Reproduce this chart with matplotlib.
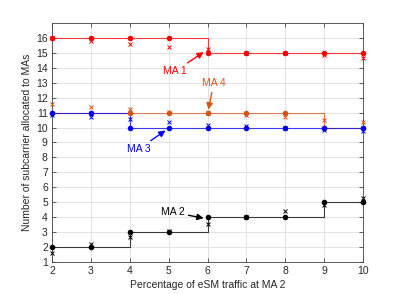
import matplotlib
matplotlib.use("Agg")
import matplotlib.pyplot as plt

plt.rcParams["font.family"] = ["Liberation Sans", "DejaVu Sans"]

x = [2, 3, 4, 5, 6, 7, 8, 9, 10]

ma1_opt = [16, 16, 16, 16, 15, 15, 15, 15, 15]
ma1_sim = [16.0, 15.8, 15.6, 15.4, 15.27, 15.0, 15.0, 14.85, 14.65]
ma2_opt = [2, 2, 3, 3, 4, 4, 4, 5, 5]
ma2_sim = [1.6, 2.18, 2.65, 3.1, 3.55, 4.0, 4.4, 4.83, 5.3]
ma3_opt = [11, 11, 10, 10, 10, 10, 10, 10, 10]
ma3_sim = [10.85, 10.7, 10.6, 10.4, 10.2, 10.1, 10.0, 9.85, 9.75]
ma4_opt = [11, 11, 11, 11, 11, 11, 11, 10, 10]
ma4_sim = [11.55, 11.4, 11.25, 11.05, 11.0, 10.85, 10.7, 10.5, 10.4]

series = [
    ("MA 1", ma1_opt, ma1_sim, "#ff0000", (5.16, 13.75), (5.9, 15.05)),
    ("MA 4", ma4_opt, ma4_sim, "#D95319", (6.16, 12.95), (6.02, 11.2)),
    ("MA 3", ma3_opt, ma3_sim, "#0000ff", (4.22, 8.55), (4.92, 9.8)),
    ("MA 2", ma2_opt, ma2_sim, "#000000", (5.1, 4.33), (5.9, 3.93)),
]

fig = plt.figure(figsize=(4.01, 2.94), dpi=100)
ax = fig.add_axes([0.1297, 0.109, 0.7756, 0.813])

for name, opt, sim, col, tpos, apos in series:
    ax.step(x, opt, where="post", color=col, lw=0.8, alpha=0.75, zorder=3)
    ax.plot(x, opt, "o", color=col, ms=3, zorder=4, clip_on=False)
    ax.plot(x, sim, "x", color=col, ms=3, mew=0.7, zorder=4, clip_on=False)
    ax.annotate(name, xy=apos, xytext=tpos, color=col, fontsize=7.5,
                ha="center", va="center",
                arrowprops=dict(arrowstyle="-|>,head_length=0.5,head_width=0.25",
                                color=col, lw=1.0, shrinkA=1, shrinkB=0))

ax.set_xlim(2, 10)
ax.set_ylim(1, 17)
ax.set_xticks(range(2, 11))
ax.set_yticks(range(1, 17))
ax.grid(True, color="#e3e3e3", lw=0.7)
ax.set_axisbelow(True)
ax.tick_params(direction="in", length=3, width=0.5, labelsize=7.5,
               colors="#262626", top=True, right=True, pad=3)
for sp in ax.spines.values():
    sp.set_color("#404040")
    sp.set_linewidth(0.6)
ax.set_xlabel("Percentage of eSM traffic at MA 2", fontsize=7.5, color="#262626", labelpad=3)
ax.set_ylabel("Number of subcarrier allocated to MAs", fontsize=7.5, color="#262626", labelpad=3)

fig.savefig("out.png", dpi=100)
